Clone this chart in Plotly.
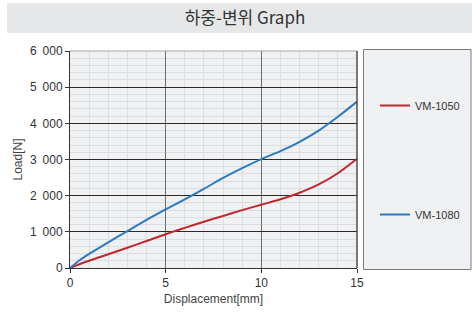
import plotly.graph_objects as go

# ---- data ----
disp = [0, 0.5, 1, 2, 3, 4, 5, 6, 7, 8, 9, 10, 11, 12, 13, 14, 15]
load_vm1050 = [0, 105, 200, 380, 560, 745, 935, 1110, 1280, 1440, 1600, 1750, 1900, 2080, 2310, 2620, 3020]
load_vm1080 = [0, 215, 390, 710, 1020, 1330, 1620, 1900, 2190, 2490, 2760, 3010, 3230, 3490, 3800, 4180, 4600]
series_names = ["VM-1050", "VM-1080"]
series_colors = ["#c0282f", "#2a7bc1"]

title_text = "하중-변위 Graph"
x_title = "Displacement[mm]"
y_title = "Load[N]"
x_ticks = [0, 5, 10, 15]
y_ticks = [0, 1000, 2000, 3000, 4000, 5000, 6000]

W, H = 472, 313
ML, MR, MT, MB = 70, 115, 51, 45
PW = W - ML - MR
PH = H - MT - MB


def px_x(p):
    return (p - ML) / PW


def px_y(p):
    return (H - MB - p) / PH


fig = go.Figure()
for i, (name, vals) in enumerate(zip(series_names, [load_vm1050, load_vm1080])):
    fig.add_trace(go.Scatter(
        x=disp, y=vals, mode="lines", name=name,
        line=dict(color=series_colors[i], width=2, shape="spline", smoothing=0.8),
        legendgroup=name,
    ))

font_main = "Liberation Sans, Arial, sans-serif"

fig.update_layout(
    width=W, height=H,
    margin=dict(l=ML, r=MR, t=MT, b=MB, autoexpand=False),
    paper_bgcolor="white",
    plot_bgcolor="#f0f1f3",
    separators=".\u2002",
    font=dict(family=font_main, size=11, color="#333333"),
    title=dict(text=title_text, x=245 / W, xanchor="center", y=1 - 18.5 / H, yanchor="middle",
               font=dict(family="Noto Sans CJK KR", size=17, color="#333333")),
    showlegend=True,
    legend=dict(
        xref="container", yref="container",
        x=375 / W, y=1 - 91 / H, xanchor="left", yanchor="top",
        bgcolor="rgba(0,0,0,0)", borderwidth=0,
        traceorder="grouped", tracegroupgap=90,
        font=dict(family=font_main, size=11, color="#333333"),
    ),
    shapes=[
        dict(type="rect", xref="paper", yref="paper",
             x0=px_x(7), x1=px_x(472), y0=px_y(33), y1=px_y(3),
             fillcolor="#e6e7e8", line=dict(width=0), layer="below"),
        dict(type="rect", xref="paper", yref="paper",
             x0=px_x(363.5), x1=px_x(471), y0=px_y(269.5), y1=px_y(49.5),
             fillcolor="#f0f1f3", line=dict(color="#7a7a7a", width=1), layer="below"),
        dict(type="line", xref="paper", yref="paper",
             x0=0, x1=1, y0=1, y1=1, line=dict(color="#a8a8a8", width=1)),
    ],
)

fig.update_xaxes(
    range=[0, 15], tickvals=x_ticks, ticks="outside", ticklen=4, tickcolor="#333333",
    showline=True, linecolor="#333333", linewidth=1, mirror=False,
    showgrid=True, gridcolor="#6e6e6e", gridwidth=1.3,
    minor=dict(dtick=1, showgrid=True, gridcolor="#dcdde0", gridwidth=1),
    zeroline=False,
    title=dict(text=x_title, standoff=5, font=dict(size=12, color="#444444")),
    tickfont=dict(size=12, color="#333333"),
)
fig.update_yaxes(
    range=[0, 6000], tickvals=y_ticks, tickformat=",d", ticks="outside", ticklen=4, tickcolor="#333333",
    showline=True, linecolor="#333333", linewidth=1, mirror=False,
    showgrid=True, gridcolor="#2a2a2a", gridwidth=1,
    minor=dict(dtick=200, showgrid=True, gridcolor="#dcdde0", gridwidth=1),
    zeroline=False,
    title=dict(text=y_title, standoff=4, font=dict(size=12, color="#444444")),
    tickfont=dict(size=12, color="#333333"),
)
# right border
fig.add_shape(type="line", xref="paper", yref="paper", x0=1, x1=1, y0=0, y1=1,
              line=dict(color="#333333", width=1.3))

fig.write_html("out.html", config={"displayModeBar": False},
               post_script="document.body.style.margin='0';")
